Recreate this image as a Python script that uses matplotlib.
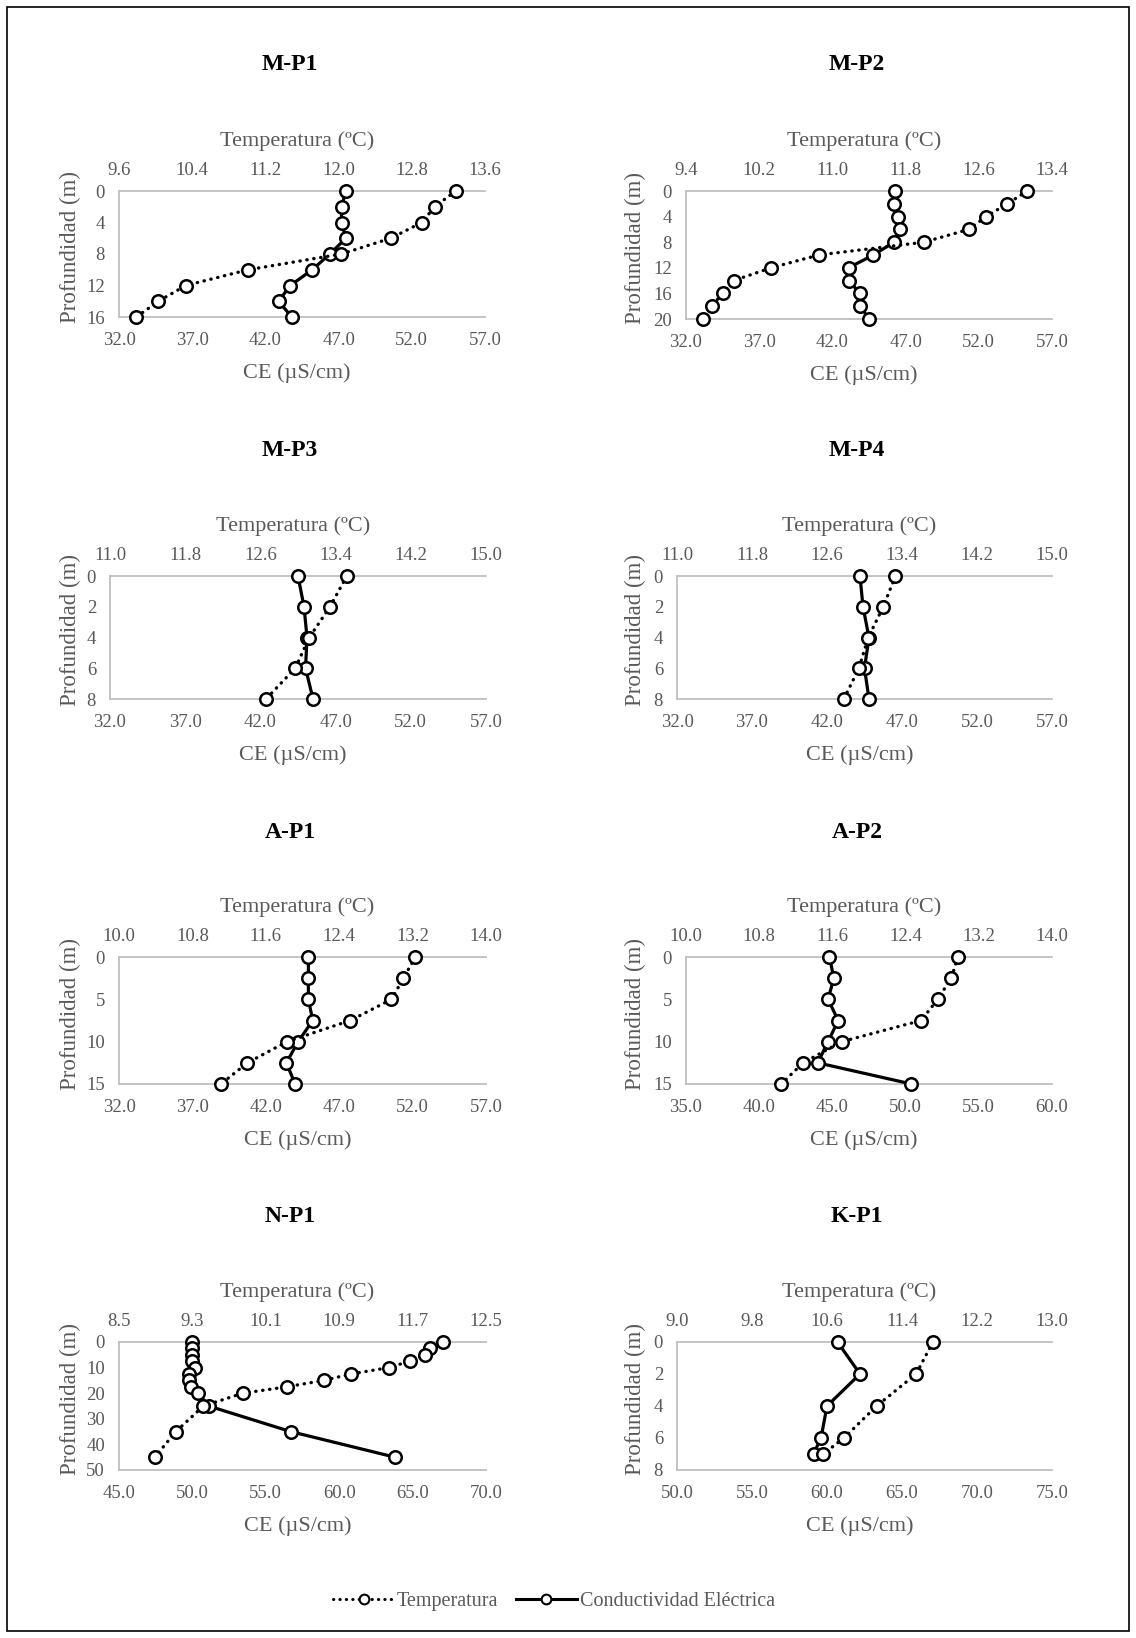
import matplotlib
import matplotlib.pyplot as plt
from matplotlib.lines import Line2D
from matplotlib.patches import Rectangle
matplotlib.use('Agg')

plt.rcParams['font.family'] = ['Liberation Serif', 'DejaVu Serif']

# perfiles: profundidad (m), temperatura (ºC), conductividad (µS/cm)
NAMES = ['M-P1', 'M-P2', 'M-P3', 'M-P4', 'A-P1', 'A-P2', 'N-P1', 'K-P1']

DEPTH_MP1 = [0, 2, 4, 6, 8, 10, 12, 14, 16]
TEMP_MP1 = [13.28, 13.05, 12.91, 12.57, 12.03, 11.01, 10.33, 10.03, 9.79]
CE_MP1 = [47.5, 47.2, 47.2, 47.5, 46.4, 45.2, 43.7, 42.9, 43.8]

DEPTH_MP2 = [0, 2, 4, 6, 8, 10, 12, 14, 16, 18, 20]
TEMP_MP2 = [13.13, 12.91, 12.68, 12.49, 12.00, 10.85, 10.33, 9.92, 9.80, 9.68, 9.59]
CE_MP2 = [46.3, 46.2, 46.5, 46.6, 46.2, 44.8, 43.1, 43.1, 43.9, 43.9, 44.5]

DEPTH_MP3 = [0, 2, 4, 6, 8]
TEMP_MP3 = [13.52, 13.34, 13.12, 12.97, 12.66]
CE_MP3 = [44.5, 44.9, 45.1, 45.0, 45.5]

DEPTH_MP4 = [0, 2, 4, 6, 8]
TEMP_MP4 = [13.33, 13.20, 13.04, 12.94, 12.78]
CE_MP4 = [44.2, 44.4, 44.8, 44.5, 44.8]

DEPTH_AP1 = [0, 2.5, 5, 7.5, 10, 12.5, 15]
TEMP_AP1 = [13.23, 13.10, 12.97, 12.52, 11.83, 11.40, 11.11]
CE_AP1 = [44.9, 44.9, 44.9, 45.2, 44.2, 43.4, 44.0]

DEPTH_AP2 = [0, 2.5, 5, 7.5, 10, 12.5, 15]
TEMP_AP2 = [12.97, 12.90, 12.75, 12.57, 11.70, 11.28, 11.04]
CE_AP2 = [44.8, 45.1, 44.7, 45.4, 44.7, 44.0, 50.4]

DEPTH_NP1 = [0, 2.5, 5, 7.5, 10, 12.5, 15, 17.5, 20, 25, 35, 45]
TEMP_NP1 = [12.03, 11.89, 11.84, 11.67, 11.44, 11.03, 10.73, 10.33, 9.85, 9.42, 9.12, 8.89]
CE_NP1 = [50.0, 50.0, 50.0, 50.0, 50.2, 49.8, 49.8, 49.9, 50.4, 51.1, 56.7, 63.8]

DEPTH_KP1 = [0, 2, 4, 6, 7]
TEMP_KP1 = [11.73, 11.55, 11.13, 10.78, 10.56]
CE_KP1 = [60.7, 62.2, 60.0, 59.6, 59.1]

# escalas de cada eje
TEMP_TICKS = [
    [9.6, 10.4, 11.2, 12.0, 12.8, 13.6],
    [9.4, 10.2, 11.0, 11.8, 12.6, 13.4],
    [11.0, 11.8, 12.6, 13.4, 14.2, 15.0],
    [11.0, 11.8, 12.6, 13.4, 14.2, 15.0],
    [10.0, 10.8, 11.6, 12.4, 13.2, 14.0],
    [10.0, 10.8, 11.6, 12.4, 13.2, 14.0],
    [8.5, 9.3, 10.1, 10.9, 11.7, 12.5],
    [9.0, 9.8, 10.6, 11.4, 12.2, 13.0],
]
CE_TICKS = [
    [32.0, 37.0, 42.0, 47.0, 52.0, 57.0],
    [32.0, 37.0, 42.0, 47.0, 52.0, 57.0],
    [32.0, 37.0, 42.0, 47.0, 52.0, 57.0],
    [32.0, 37.0, 42.0, 47.0, 52.0, 57.0],
    [32.0, 37.0, 42.0, 47.0, 52.0, 57.0],
    [35.0, 40.0, 45.0, 50.0, 55.0, 60.0],
    [45.0, 50.0, 55.0, 60.0, 65.0, 70.0],
    [50.0, 55.0, 60.0, 65.0, 70.0, 75.0],
]
DEPTH_TICKS = [
    [0, 4, 8, 12, 16],
    [0, 4, 8, 12, 16, 20],
    [0, 2, 4, 6, 8],
    [0, 2, 4, 6, 8],
    [0, 5, 10, 15],
    [0, 5, 10, 15],
    [0, 10, 20, 30, 40, 50],
    [0, 2, 4, 6, 8],
]

PROFILES = [
    (DEPTH_MP1, TEMP_MP1, CE_MP1),
    (DEPTH_MP2, TEMP_MP2, CE_MP2),
    (DEPTH_MP3, TEMP_MP3, CE_MP3),
    (DEPTH_MP4, TEMP_MP4, CE_MP4),
    (DEPTH_AP1, TEMP_AP1, CE_AP1),
    (DEPTH_AP2, TEMP_AP2, CE_AP2),
    (DEPTH_NP1, TEMP_NP1, CE_NP1),
    (DEPTH_KP1, TEMP_KP1, CE_KP1),
]

W, H = 1136, 1638
# caja del area de trazado en pixeles: x0, x1, y_top, y_bottom
BOXES = [
    (119, 485, 191, 317),
    (686, 1052, 191, 319),
    (110, 486, 576, 699),
    (677, 1052, 576, 699),
    (119, 486, 957, 1084),
    (686, 1052, 957, 1084),
    (119, 486, 1342, 1470),
    (677, 1052, 1342, 1470),
]
TITLE_Y = [64, 64, 451, 451, 833, 833, 1217, 1217]
TITLE_X = [290, 857]

GREY_TXT = '#595959'
GREY_AX = '#bfbfbf'
TICK_FS = 13.5
DOTS = (0, (0.1, 2.0))

fig = plt.figure(figsize=(W / 100, H / 100), dpi=100)


def px(x, y):
    return x / W, 1 - y / H


for i, (name, (depth, temp, ce)) in enumerate(zip(NAMES, PROFILES)):
    x0, x1, yt, yb = BOXES[i]
    l, b = px(x0, yb)
    ax = fig.add_axes([l, b, (x1 - x0) / W, (yb - yt) / H])
    tw = ax.twiny()

    ax.plot(ce, depth, '-', color='black', lw=2.3, marker='o', ms=9,
            mfc='white', mec='black', mew=1.8, clip_on=False, zorder=3)
    tw.plot(temp, depth, color='black', lw=2.4, ls=DOTS,
            dash_capstyle='round', marker='o', ms=9, mfc='white',
            mec='black', mew=1.8, clip_on=False, zorder=3)

    ct, tt, dt = CE_TICKS[i], TEMP_TICKS[i], DEPTH_TICKS[i]
    ax.set_xlim(ct[0], ct[-1])
    tw.set_xlim(tt[0], tt[-1])
    ax.set_ylim(dt[-1], dt[0])
    ax.set_xticks(ct)
    ax.set_xticklabels([f'{v:.1f}' for v in ct])
    tw.set_xticks(tt)
    tw.set_xticklabels([f'{v:.1f}' for v in tt])
    ax.set_yticks(dt)
    ax.set_yticklabels([str(v) for v in dt])

    for s in ('left', 'bottom', 'top'):
        ax.spines[s].set_color(GREY_AX)
        ax.spines[s].set_linewidth(1.3)
    ax.spines['right'].set_visible(False)
    for s in tw.spines.values():
        s.set_visible(False)
    ax.tick_params(axis='x', length=0, pad=11, labelsize=TICK_FS, labelcolor=GREY_TXT)
    ax.tick_params(axis='y', length=0, pad=10, labelsize=TICK_FS, labelcolor=GREY_TXT)
    tw.tick_params(axis='x', length=0, pad=8.5, labelsize=TICK_FS, labelcolor=GREY_TXT)
    ax.set_facecolor('none')
    tw.set_facecolor('none')

    cx = (x0 + x1) / 2 - 5
    fig.text(*px(cx, yt - 50), 'Temperatura (ºC)', ha='center', va='center',
             fontsize=16, color=GREY_TXT)
    fig.text(*px(cx, yb + 56), 'CE (µS/cm)', ha='center', va='center',
             fontsize=16, color=GREY_TXT)
    lx = 70 if i % 2 == 0 else 635
    fig.text(*px(lx, (yt + yb) / 2 - 7), 'Profundidad (m)', ha='center', va='center',
             rotation=90, fontsize=16.5, color=GREY_TXT)
    fig.text(*px(TITLE_X[i % 2], TITLE_Y[i]), name, ha='center', va='center',
             fontsize=17, fontweight='bold', color='black')

handles = [
    Line2D([], [], color='black', lw=2.2, ls=DOTS, dash_capstyle='round', marker='o',
           ms=7, mfc='white', mec='black', mew=1.5),
    Line2D([], [], color='black', lw=2.2, ls='-', marker='o', ms=7,
           mfc='white', mec='black', mew=1.5),
]
leg = fig.legend(handles, ['Temperatura', 'Conductividad Eléctrica'], loc='center',
                 bbox_to_anchor=px(554, 1601), ncol=2, frameon=False, fontsize=14.5,
                 handlelength=3.0, columnspacing=0.9, handletextpad=0.15, numpoints=1)
for t in leg.get_texts():
    t.set_color(GREY_TXT)

fig.patches.append(Rectangle(px(7, 1631), 1122 / W, 1624 / H, transform=fig.transFigure,
                             fill=False, edgecolor='black', lw=1.2))

fig.savefig('out.png', dpi=100)
